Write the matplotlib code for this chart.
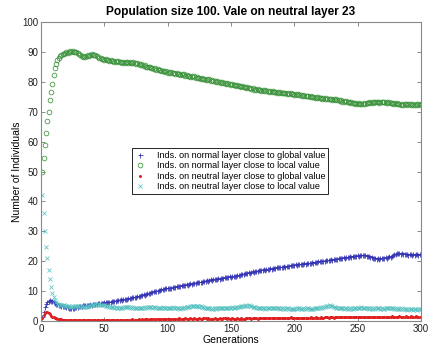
import matplotlib
matplotlib.use("Agg")
import matplotlib.pyplot as plt
import numpy as np

plt.rcParams['font.family'] = ['Liberation Sans', 'DejaVu Sans']

generations = list(range(1, 301))

local_normal = [
    50.0, 54.5, 58.7, 63.0, 67.0, 69.8, 73.8, 76.6, 79.4, 82.2,
    84.7, 86.1, 87.2, 88.0, 88.6, 89.0, 89.4, 89.2, 89.7, 89.8,
    89.5, 89.9, 90.2, 90.0, 90.3, 90.1, 89.8, 90.0, 89.6, 89.3,
    89.0, 88.7, 88.4, 88.6, 88.2, 88.5, 88.8, 88.6, 89.0, 89.2,
    89.1, 88.8, 89.0, 88.6, 88.3, 88.0, 87.8, 87.5, 87.7, 87.3,
    87.5, 87.2, 87.4, 87.0, 87.2, 86.8, 87.0, 86.7, 86.9, 86.6,
    86.8, 86.5, 86.7, 86.4, 86.6, 86.3, 86.5, 86.6, 86.3, 86.5,
    86.2, 86.4, 86.6, 86.3, 86.1, 86.2, 85.9, 85.6, 85.8, 85.5,
    85.3, 85.5, 85.1, 84.9, 85.1, 84.8, 84.5, 84.7, 84.3, 84.5,
    84.1, 84.3, 83.9, 84.1, 83.7, 83.5, 83.7, 83.3, 83.5, 83.1,
    83.3, 83.0, 83.2, 82.8, 83.0, 82.7, 82.9, 82.5, 82.7, 82.4,
    82.6, 82.3, 82.5, 82.1, 82.3, 81.9, 82.1, 81.7, 81.9, 81.6,
    81.8, 81.4, 81.6, 81.2, 81.4, 81.1, 81.3, 80.9, 81.1, 80.7,
    80.9, 80.6, 80.8, 80.4, 80.6, 80.2, 80.4, 80.0, 80.2, 79.9,
    80.1, 79.7, 79.9, 79.5, 79.7, 79.3, 79.5, 79.2, 79.4, 79.0,
    79.2, 78.8, 79.0, 78.6, 78.8, 78.5, 78.7, 78.3, 78.5, 78.1,
    78.3, 77.9, 78.1, 77.8, 78.0, 77.6, 77.8, 77.4, 77.6, 77.3,
    77.5, 77.1, 77.3, 77.0, 77.2, 76.9, 77.1, 76.8, 77.0, 76.7,
    76.9, 76.6, 76.8, 76.5, 76.7, 76.4, 76.6, 76.3, 76.5, 76.2,
    76.4, 76.1, 76.3, 76.0, 76.2, 75.9, 76.1, 75.8, 76.0, 75.7,
    75.9, 75.6, 75.8, 75.5, 75.7, 75.4, 75.6, 75.2, 75.4, 75.1,
    75.3, 74.9, 75.1, 74.8, 75.0, 74.7, 74.9, 74.6, 74.8, 74.5,
    74.7, 74.4, 74.6, 74.3, 74.5, 74.2, 74.4, 74.1, 74.3, 74.0,
    74.2, 73.9, 74.1, 73.8, 74.0, 73.6, 73.8, 73.4, 73.6, 73.3,
    73.5, 73.1, 73.3, 73.0, 73.2, 72.8, 73.0, 72.7, 72.9, 72.6,
    72.8, 72.5, 72.7, 72.6, 72.9, 72.7, 73.0, 72.8, 73.1, 72.9,
    73.2, 73.0, 73.3, 73.1, 73.4, 73.2, 73.0, 73.3, 73.1, 73.4,
    73.2, 73.0, 73.2, 72.9, 73.1, 72.8, 73.0, 72.7, 72.9, 72.6,
    72.8, 72.5, 72.7, 72.4, 72.6, 72.3, 72.5, 72.6, 72.4, 72.7,
    72.5, 72.3, 72.6, 72.4, 72.2, 72.5, 72.3, 72.6, 72.4, 72.5,
]

global_normal = [
    1.4, 3.0, 4.6, 5.6, 6.3, 6.7, 6.9, 6.8, 6.6, 6.3,
    6.0, 5.8, 5.6, 5.4, 5.3, 5.1, 5.0, 5.1, 4.9, 4.8,
    4.6, 4.5, 4.3, 4.2, 4.4, 4.5, 4.7, 4.6, 4.8, 5.0,
    5.1, 5.0, 5.2, 5.3, 5.2, 5.4, 5.5, 5.4, 5.6, 5.5,
    5.7, 5.6, 5.8, 5.7, 5.9, 6.0, 5.9, 6.1, 6.0, 6.2,
    6.3, 6.2, 6.4, 6.5, 6.4, 6.6, 6.7, 6.6, 6.8, 7.0,
    6.9, 7.1, 7.2, 7.1, 7.3, 7.4, 7.3, 7.5, 7.6, 7.8,
    7.7, 7.9, 8.0, 7.9, 8.1, 8.2, 8.4, 8.3, 8.6, 8.7,
    8.9, 8.8, 9.1, 9.3, 9.2, 9.5, 9.7, 9.6, 9.9, 10.1,
    10.0, 10.2, 10.4, 10.3, 10.6, 10.7, 10.6, 10.9, 11.0, 10.9,
    11.1, 11.2, 11.1, 11.3, 11.4, 11.3, 11.6, 11.7, 11.6, 11.8,
    11.9, 12.1, 12.0, 12.2, 12.3, 12.2, 12.4, 12.6, 12.5, 12.7,
    12.8, 12.7, 12.9, 13.0, 13.1, 13.0, 13.2, 13.4, 13.3, 13.5,
    13.6, 13.5, 13.7, 13.9, 13.8, 14.0, 14.1, 14.0, 14.2, 14.3,
    14.2, 14.4, 14.5, 14.4, 14.6, 14.7, 14.6, 14.8, 14.9, 14.8,
    15.0, 15.1, 15.0, 15.2, 15.4, 15.3, 15.5, 15.7, 15.6, 15.8,
    16.0, 15.9, 16.1, 16.3, 16.2, 16.4, 16.6, 16.5, 16.7, 16.8,
    16.7, 16.9, 17.1, 17.0, 17.2, 17.3, 17.2, 17.4, 17.5, 17.4,
    17.6, 17.5, 17.7, 17.8, 17.7, 17.9, 18.0, 17.9, 18.1, 18.0,
    18.2, 18.3, 18.2, 18.4, 18.5, 18.4, 18.6, 18.7, 18.6, 18.8,
    18.9, 18.8, 19.0, 19.1, 19.0, 19.2, 19.1, 19.3, 19.2, 19.4,
    19.3, 19.5, 19.4, 19.6, 19.5, 19.7, 19.8, 19.7, 19.9, 20.0,
    19.9, 20.1, 20.2, 20.1, 20.3, 20.4, 20.3, 20.5, 20.6, 20.5,
    20.7, 20.8, 20.7, 20.9, 21.0, 21.1, 21.0, 21.2, 21.3, 21.2,
    21.4, 21.5, 21.4, 21.6, 21.5, 21.7, 21.8, 21.7, 21.9, 22.0,
    21.9, 22.1, 22.0, 22.2, 22.1, 22.0, 21.8, 21.9, 21.6, 21.4,
    21.3, 21.2, 21.0, 21.1, 20.9, 21.0, 20.9, 21.1, 21.0, 21.2,
    21.1, 21.3, 21.2, 21.4, 21.6, 21.5, 21.8, 22.0, 22.3, 22.5,
    22.6, 22.7, 22.6, 22.5, 22.6, 22.4, 22.5, 22.3, 22.4, 22.2,
    22.3, 22.4, 22.2, 22.3, 22.1, 22.3, 22.4, 22.2, 22.3, 22.3,
]

global_neutral = [
    1.0, 2.0, 2.8, 3.1, 3.0, 2.6, 2.2, 1.8, 1.5, 1.2,
    1.0, 0.9, 0.8, 0.7, 0.6, 0.6, 0.5, 0.5, 0.4, 0.4,
    0.4, 0.3, 0.4, 0.3, 0.3, 0.4, 0.3, 0.2, 0.3, 0.3,
    0.2, 0.3, 0.3, 0.2, 0.3, 0.4, 0.3, 0.3, 0.2, 0.3,
    0.3, 0.4, 0.3, 0.3, 0.4, 0.3, 0.2, 0.3, 0.3, 0.4,
    0.3, 0.4, 0.4, 0.3, 0.4, 0.5, 0.4, 0.3, 0.4, 0.4,
    0.5, 0.4, 0.4, 0.3, 0.4, 0.5, 0.4, 0.5, 0.4, 0.4,
    0.5, 0.6, 0.5, 0.4, 0.5, 0.5, 0.6, 0.5, 0.5, 0.6,
    0.5, 0.6, 0.7, 0.6, 0.5, 0.6, 0.6, 0.7, 0.6, 0.5,
    0.6, 0.7, 0.6, 0.6, 0.7, 0.8, 0.7, 0.6, 0.7, 0.7,
    0.8, 0.7, 0.6, 0.7, 0.8, 0.7, 0.7, 0.8, 0.9, 0.8,
    0.7, 0.8, 0.8, 0.9, 0.8, 0.7, 0.8, 0.9, 0.8, 0.8,
    0.9, 0.8, 0.7, 0.8, 0.9, 0.8, 0.8, 0.9, 1.0, 0.9,
    0.8, 0.9, 0.8, 0.7, 0.8, 0.8, 0.9, 0.8, 0.7, 0.8,
    0.9, 0.8, 0.8, 0.9, 1.0, 0.9, 0.8, 0.9, 0.8, 0.8,
    0.9, 0.8, 0.7, 0.8, 0.9, 0.8, 0.8, 0.9, 0.8, 0.7,
    0.8, 0.9, 0.9, 1.0, 0.9, 0.8, 0.9, 0.9, 1.0, 0.9,
    0.8, 0.9, 1.0, 0.9, 0.9, 1.0, 1.1, 1.0, 0.9, 1.0,
    1.0, 0.9, 1.0, 1.1, 1.0, 0.9, 1.0, 1.0, 1.1, 1.0,
    0.9, 1.0, 1.1, 1.0, 1.0, 1.1, 1.2, 1.1, 1.0, 1.1,
    0.9, 1.0, 0.9, 1.0, 1.1, 1.0, 0.9, 1.0, 1.0, 1.1,
    1.0, 1.1, 1.2, 1.1, 1.0, 1.1, 1.2, 1.1, 1.0, 1.1,
    1.2, 1.1, 1.1, 1.2, 1.3, 1.2, 1.1, 1.2, 1.3, 1.2,
    1.1, 1.2, 1.3, 1.2, 1.2, 1.3, 1.4, 1.3, 1.2, 1.3,
    1.2, 1.3, 1.4, 1.3, 1.2, 1.3, 1.3, 1.4, 1.3, 1.2,
    1.3, 1.4, 1.5, 1.4, 1.3, 1.4, 1.3, 1.2, 1.3, 1.4,
    1.3, 1.4, 1.5, 1.4, 1.3, 1.4, 1.4, 1.5, 1.4, 1.3,
    1.4, 1.5, 1.4, 1.3, 1.4, 1.5, 1.6, 1.5, 1.4, 1.5,
    1.4, 1.5, 1.6, 1.5, 1.4, 1.5, 1.5, 1.6, 1.5, 1.4,
    1.5, 1.6, 1.5, 1.4, 1.5, 1.6, 1.5, 1.4, 1.5, 1.5,
]

local_neutral = [
    42.3, 36.0, 30.2, 24.8, 21.0, 17.1, 14.0, 11.5, 9.4, 8.0,
    7.0, 6.3, 5.8, 5.6, 5.4, 5.5, 5.2, 5.3, 5.0, 5.1,
    4.9, 5.0, 4.8, 4.7, 4.9, 4.8, 5.0, 4.9, 5.1, 5.0,
    4.8, 4.9, 4.7, 4.8, 4.6, 4.8, 5.0, 5.1, 5.3, 5.2,
    5.4, 5.5, 5.6, 5.5, 5.7, 5.6, 5.4, 5.3, 5.4, 5.2,
    5.0, 5.1, 4.9, 4.8, 4.7, 4.6, 4.7, 4.5, 4.6, 4.4,
    4.5, 4.3, 4.5, 4.4, 4.6, 4.7, 4.6, 4.8, 4.7, 4.6,
    4.5, 4.6, 4.4, 4.5, 4.3, 4.4, 4.2, 4.4, 4.3, 4.5,
    4.4, 4.6, 4.5, 4.7, 4.6, 4.8, 4.6, 4.5, 4.7, 4.6,
    4.4, 4.5, 4.3, 4.5, 4.4, 4.6, 4.5, 4.3, 4.4, 4.2,
    4.3, 4.5, 4.4, 4.6, 4.5, 4.3, 4.4, 4.2, 4.3, 4.1,
    4.3, 4.4, 4.6, 4.5, 4.7, 4.8, 4.7, 4.9, 5.0, 4.9,
    5.1, 5.0, 4.9, 5.0, 4.8, 4.9, 4.7, 4.6, 4.5, 4.4,
    4.3, 4.2, 4.3, 4.1, 4.2, 4.0, 4.2, 4.1, 4.3, 4.2,
    4.4, 4.3, 4.2, 4.4, 4.3, 4.5, 4.4, 4.3, 4.5, 4.4,
    4.6, 4.5, 4.4, 4.6, 4.7, 4.6, 4.8, 4.9, 5.0, 5.1,
    5.0, 5.2, 5.1, 5.3, 5.1, 5.0, 4.8, 4.7, 4.6, 4.5,
    4.4, 4.5, 4.3, 4.4, 4.2, 4.3, 4.1, 4.3, 4.2, 4.4,
    4.3, 4.2, 4.4, 4.3, 4.5, 4.4, 4.2, 4.3, 4.1, 4.2,
    4.0, 4.2, 4.1, 4.3, 4.2, 4.0, 4.1, 3.9, 4.1, 4.0,
    4.2, 4.1, 4.3, 4.2, 4.0, 4.1, 4.2, 4.0, 4.1, 4.3,
    4.2, 4.0, 4.1, 3.9, 4.1, 4.2, 4.3, 4.2, 4.4, 4.5,
    4.6, 4.5, 4.7, 4.8, 4.9, 5.0, 5.1, 5.2, 5.0, 4.9,
    4.7, 4.6, 4.5, 4.4, 4.3, 4.4, 4.2, 4.3, 4.1, 4.2,
    4.3, 4.1, 4.2, 4.0, 4.2, 4.1, 4.3, 4.2, 4.4, 4.3,
    4.5, 4.4, 4.6, 4.5, 4.4, 4.3, 4.2, 4.3, 4.1, 4.2,
    4.0, 4.2, 4.1, 4.3, 4.4, 4.2, 4.3, 4.1, 4.2, 4.0,
    4.1, 4.3, 4.2, 4.4, 4.3, 4.5, 4.4, 4.2, 4.1, 4.0,
    4.2, 4.1, 3.9, 4.0, 4.2, 4.1, 3.9, 4.0, 3.8, 4.0,
    3.9, 4.1, 3.9, 3.8, 4.0, 3.9, 3.8, 4.0, 3.9, 3.9,
]

labels = [
    "Inds. on normal layer close to global value",
    "Inds. on normal layer close to local value",
    "Inds. on neutral layer close to global value",
    "Inds. on neutral layer close to local value",
]
title = "Population size 100. Vale on neutral layer 23"
x_ticks = [0, 50, 100, 150, 200, 250, 300]
y_ticks = [0, 10, 20, 30, 40, 50, 60, 70, 80, 90, 100]

fig = plt.figure(figsize=(4.32, 3.49), dpi=100)
ax = fig.add_axes([41/432, 28/349, 380/432, 299/349])

ax.plot(generations, global_normal, linestyle='none', marker='+', color='#3434b4',
        markersize=3.6, markeredgewidth=0.6, label=labels[0])
ax.plot(generations, local_normal, linestyle='none', marker='o', markerfacecolor='none',
        markeredgecolor='#3a923a', markersize=3.4, markeredgewidth=0.55, label=labels[1])
ax.plot(generations, global_neutral, linestyle='none', marker='.', color='#e02020',
        markersize=2.3, label=labels[2])
ax.plot(generations, local_neutral, linestyle='none', marker='x', color='#58c2c2',
        markersize=3.0, markeredgewidth=0.55, label=labels[3])

ax.set_xlim(0, 300)
ax.set_ylim(0, 100)
ax.set_xticks(x_ticks)
ax.set_yticks(y_ticks)
ax.tick_params(direction='in', top=True, right=True, length=3, width=0.6,
               labelsize=7, colors='#777777', labelcolor='#222222', pad=2)
for sp in ax.spines.values():
    sp.set_color('#888888')
    sp.set_linewidth(0.8)

ax.set_title(title, fontsize=8.6, fontweight='bold', pad=5)
ax.set_xlabel("Generations", fontsize=7.5, labelpad=1)
ax.set_ylabel("Number of Individuals", fontsize=7.5, labelpad=0)

leg = ax.legend(loc='center', bbox_to_anchor=(230/432, 1 - 171/349),
                bbox_transform=fig.transFigure, fontsize=6.5, fancybox=False,
                edgecolor='black', framealpha=1, borderpad=0.3, labelspacing=0.15,
                handlelength=1.2, handletextpad=1.2, borderaxespad=0)
leg.get_frame().set_linewidth(0.6)

fig.savefig("out.png", dpi=100)
